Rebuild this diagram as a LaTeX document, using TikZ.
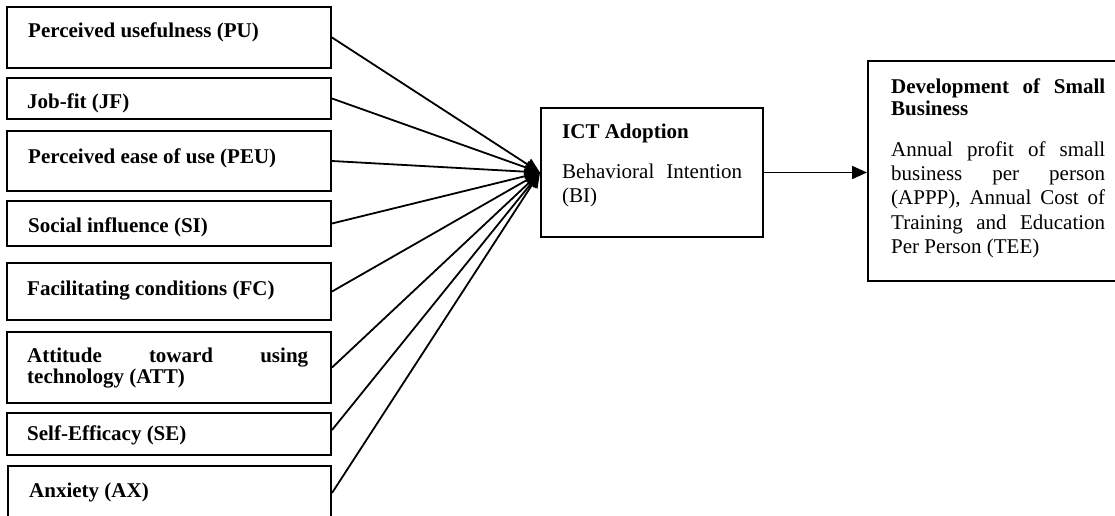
\documentclass[tikz,border=0pt]{standalone}
\usepackage{fontspec}
\setmainfont{Liberation Serif}
\usetikzlibrary{arrows.meta,fit}
\begin{document}
\begin{tikzpicture}[x=1pt,y=-1pt,
  box/.style={draw,line width=2pt,inner sep=0pt,rectangle},
  txt/.style={anchor=base west,inner sep=0pt,font=\fontsize{21}{24.4}\selectfont},
  btxt/.style={anchor=base west,inner sep=0pt,font=\fontsize{21}{21.7}\selectfont\bfseries},
  conn/.style={line width=1.8pt,-{Triangle[length=15pt,width=13pt]}}]
\useasboundingbox (0,0) rectangle (1115,516);
\fill[white] (0,0) rectangle (1115,516);
\clip (0,0) rectangle (1115,516);
% left boxes
\node[box,fit={(7,7) (331,68)}] (pu) {};
\node[box,fit={(7,78) (331,119)}] (jf) {};
\node[box,fit={(7,131) (331,191)}] (peu) {};
\node[box,fit={(7,201) (331,246)}] (si) {};
\node[box,fit={(7,263) (331,320)}] (fc) {};
\node[box,fit={(7,332) (331,403)}] (att) {};
\node[box,fit={(7,413) (331,455)}] (se) {};
\node[box,fit={(8,466) (331,520)}] (ax) {};
% middle and right boxes
\node[box,fit={(541,108) (763,237)}] (ict) {};
\node[box,fit={(868,61) (1130,281)}] (dev) {};
% texts
\node[btxt] (puT) at (28,38) {Perceived usefulness (PU)};
\node[btxt] (jfT) at (27,109) {Job-fit (JF)};
\node[btxt] (peuT) at (28,163) {Perceived ease of use (PEU)};
\node[btxt] (siT) at (28,232) {Social influence (SI)};
\node[btxt] (fcT) at (27,295) {Facilitating conditions (FC)};
\node[btxt] (attT) at (27,362) {\vtop{\hbox to 281pt{Attitude\hfill toward\hfill using}\hbox{technology (ATT)}}};
\node[btxt] (seT) at (27,440) {Self-Efficacy (SE)};
\node[btxt] (axT) at (29,497) {Anxiety (AX)};
\node[btxt] (ictT) at (562,138) {ICT Adoption};
\node[txt] (ictB) at (562,178) {\vtop{\hbox to 180pt{Behavioral\hfill Intention}\hbox{(BI)}}};
\node[btxt,font=\fontsize{21}{22}\selectfont\bfseries] (devT) at (891,94) {\vtop{\hbox to 214pt{Development\hfill of\hfill Small}\hbox{Business}}};
\node[txt] (devB) at (891,156) {\vtop{%
  \hbox to 214pt{Annual\hfill profit\hfill of\hfill small}%
  \hbox to 214pt{business\hfill per\hfill person}%
  \hbox to 214pt{(APPP),\hfill Annual\hfill Cost\hfill of}%
  \hbox to 214pt{Training\hfill and\hfill Education}%
  \hbox{Per Person (TEE)}}};
% connectors
\foreach \n in {pu,jf,peu,si,fc,att,ax}
  \draw[conn] (\n.east) -- (ict.west);
\draw[conn] ([yshift=4pt]se.east) -- (ict.west);
\draw[conn] (ict.east) -- (ict.east -| dev.west);
\end{tikzpicture}
\end{document}
